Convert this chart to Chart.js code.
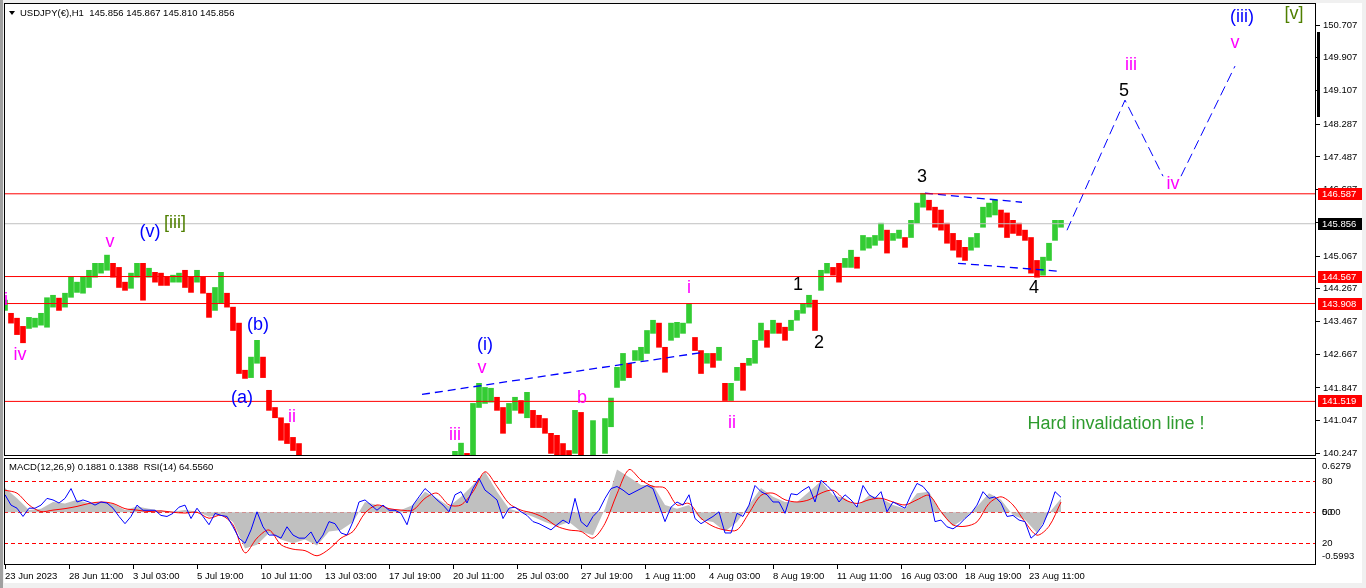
<!DOCTYPE html>
<html>
<head>
<meta charset="utf-8">
<script src="https://cdn.jsdelivr.net/npm/chart.js@4.4.0/dist/chart.umd.min.js"></script>
<style>
  body { margin: 0; width: 1366px; height: 588px; overflow: hidden; position: relative; background: #f0f0f0; }
  #edge { position: absolute; left: 0; top: 0; width: 3px; height: 588px; background: #a0a0a0; }
  #sheet { position: absolute; left: 4px; top: 3px; width: 1358px; height: 580px; background: #fff; }
  #main { position: absolute; left: 0; top: 0; }
  #sub { position: absolute; left: 0; top: 457px; }
</style>
</head>
<body>
<div id="edge"></div>
<div id="sheet"></div>
<canvas id="main" width="1366" height="457"></canvas>
<canvas id="sub" width="1366" height="131"></canvas>
<script>
// one bar every 6 hours, indicator readings every 12 hours (x axis counts hours)
const BAR_HOURS = 6;
const MACD_HOURS = 12;
const LABEL_HOURS = 64;

const highs = [
  143.99, 143.67, 143.55, 143.35, 143.57, 143.55, 143.67, 144.05, 144.11, 144.04,
  144.16, 144.55, 144.43, 144.55, 144.72, 144.89, 144.89, 145.09, 144.89, 144.79,
  144.43, 144.65, 144.89, 144.89, 144.77, 144.67, 144.65, 144.55, 144.60, 144.65,
  144.72, 144.55, 144.72, 144.55, 144.16, 144.30, 144.67, 144.16, 143.82, 143.43,
  142.28, 142.60, 143.01, 142.60, 141.79, 141.37, 141.12, 140.98, 140.64, 140.49,
  140.10, 140.00, 139.70, 139.40, 138.80, 138.60, 138.40, 138.30, 138.00, 138.10,
  138.60, 138.90, 138.90, 139.20, 139.10, 139.30, 139.20, 139.40, 139.60, 139.80,
  139.70, 139.80, 140.00, 139.90, 140.20, 140.30, 140.50, 140.25, 141.47, 141.96,
  141.86, 141.84, 141.62, 141.37, 141.47, 141.62, 141.54, 141.74, 141.30, 141.18,
  141.10, 140.74, 140.69, 140.49, 140.32, 141.30, 141.25, 139.30, 141.05, 140.10,
  141.10, 141.60, 142.35, 142.69, 142.45, 142.76, 142.84, 143.25, 143.50, 143.43,
  142.84, 143.43, 143.45, 143.43, 143.91, 143.08, 142.76, 142.69, 142.69, 142.84,
  141.96, 141.96, 142.35, 142.45, 142.57, 143.01, 143.43, 143.25, 143.50, 143.43,
  143.33, 143.50, 143.74, 143.91, 144.11, 143.99, 144.72, 144.89, 144.79, 144.89,
  145.01, 145.21, 145.04, 145.57, 145.52, 145.57, 145.87, 145.70, 145.62, 145.70,
  145.52, 145.94, 146.36, 146.60, 146.43, 146.26, 146.19, 145.87, 145.62, 145.45,
  145.28, 145.52, 145.62, 146.26, 146.36, 146.43, 146.19, 146.12, 145.94, 145.87,
  145.70, 145.52, 144.96, 145.04, 145.38, 145.94, 145.94
];
const lows = [
  143.74, 143.43, 143.15, 142.95, 143.30, 143.33, 143.38, 143.33, 143.82, 143.74,
  143.82, 144.06, 144.18, 144.16, 144.30, 144.55, 144.65, 144.72, 144.55, 144.30,
  144.23, 144.28, 144.55, 143.99, 144.55, 144.43, 144.35, 144.35, 144.43, 144.43,
  144.30, 144.18, 144.43, 144.16, 143.57, 143.74, 143.91, 143.82, 143.25, 142.20,
  142.08, 142.10, 142.45, 142.10, 141.30, 141.12, 140.57, 140.49, 140.32, 140.05,
  139.85, 139.60, 139.30, 138.60, 138.40, 138.20, 138.00, 137.90, 137.30, 137.25,
  137.90, 138.40, 138.60, 138.70, 138.80, 138.90, 138.80, 139.00, 139.20, 139.40,
  139.30, 139.50, 139.60, 139.50, 139.70, 139.80, 139.90, 139.80, 140.00, 141.37,
  141.47, 141.50, 141.30, 140.74, 140.98, 141.30, 141.23, 141.12, 140.88, 140.88,
  140.74, 140.25, 140.05, 139.95, 139.90, 140.25, 139.40, 138.30, 138.60, 139.40,
  140.25, 140.90, 141.86, 142.03, 142.10, 142.52, 142.52, 142.69, 143.18, 142.84,
  142.23, 143.01, 143.08, 143.18, 143.43, 142.76, 142.20, 142.45, 142.35, 142.52,
  141.54, 141.54, 142.03, 141.79, 142.40, 142.45, 143.01, 142.84, 143.18, 143.18,
  143.01, 143.25, 143.50, 143.67, 143.82, 143.25, 144.23, 144.65, 144.60, 144.43,
  144.79, 144.79, 144.77, 145.21, 145.26, 145.33, 145.45, 145.14, 145.45, 145.50,
  145.28, 145.52, 145.87, 146.26, 146.19, 145.77, 145.70, 145.38, 145.21, 145.04,
  144.96, 145.21, 145.28, 145.77, 146.02, 146.07, 145.77, 145.52, 145.62, 145.57,
  145.45, 144.65, 144.55, 144.60, 144.96, 145.45, 145.77
];

const rsi = [
  67, 57, 54, 46, 54, 54, 57, 63.5, 62, 59,
  63.5, 73, 60, 62, 60, 57, 60, 59, 54, 46,
  39, 46, 57, 52, 52, 52, 47, 46, 49, 55,
  57, 44, 54, 46, 38, 49, 47, 46, 36, 25,
  20, 33, 50.5, 36, 28, 28, 25, 36, 28, 25,
  25, 31, 20, 28, 41, 39, 30, 28, 41, 60,
  62, 57, 52, 57, 52, 52, 49, 38, 57, 65,
  73, 68, 62, 57, 50.5, 67, 70, 59, 73, 83,
  71.5, 67, 62, 44, 54, 55, 50.5, 47, 41, 39,
  36, 33, 38, 42.5, 39, 63.5, 41, 36, 46, 52,
  63.5, 73, 75, 71.5, 67, 70, 73, 76, 73, 57,
  41, 55, 60, 57, 67, 44, 39, 42.5, 46, 50.5,
  30, 30, 49, 46, 57, 76, 70, 67, 60, 60,
  49, 68, 67, 71.5, 75, 60, 81, 76, 70, 60,
  67, 62, 55, 76, 67, 63.5, 70, 50.5, 60, 57,
  54, 67, 78, 75, 68, 41, 42.5, 36, 34, 38,
  44, 49, 57, 70, 63.5, 65, 59, 46, 47, 42.5,
  41, 25, 30, 38, 52, 70, 64.56
];

const macd = [
  0.33, 0.19, 0.03, 0.05, 0.14, 0.12, 0.17, 0.12, 0.14, 0.12,
  0.03, 0.08, 0.05, 0.02, 0.01, 0.03, 0.01, -0.06, -0.03, -0.13,
  -0.49, -0.44, -0.28, -0.37, -0.42, -0.37, -0.45, -0.26, -0.24, -0.13,
  0.14, 0.10, 0.05, 0.03, 0.10, 0.28, 0.19, 0.08, 0.21, 0.37,
  0.55, 0.28, 0.05, 0.00, -0.06, -0.13, -0.19, -0.13, -0.26, -0.31,
  0.05, 0.58, 0.48, 0.37, 0.37, 0.10, 0.05, 0.10, -0.10, -0.13,
  -0.26, -0.13, 0.10, 0.33, 0.21, 0.14, 0.14, 0.28, 0.42, 0.23,
  0.19, 0.08, 0.23, 0.19, 0.10, 0.05, 0.26, 0.28, -0.01, -0.19,
  -0.08, 0.08, 0.26, 0.17, -0.04, -0.10, -0.28, -0.01, 0.1881
];
const signal = [
  0.30, 0.26, 0.10, 0.01, 0.03, 0.05, 0.08, 0.12, 0.14, 0.12,
  0.05, 0.03, 0.01, 0.02, 0.00, -0.01, 0.00, -0.08, -0.04, -0.17,
  -0.55, -0.35, -0.24, -0.44, -0.50, -0.52, -0.59, -0.50, -0.35, -0.26,
  -0.01, 0.10, 0.05, 0.03, 0.03, 0.19, 0.26, 0.10, 0.10, 0.28,
  0.55, 0.35, 0.12, 0.03, -0.01, -0.08, -0.19, -0.24, -0.26, -0.35,
  -0.15, 0.25, 0.58, 0.44, 0.35, 0.33, 0.10, 0.12, -0.08, -0.19,
  -0.24, -0.24, -0.01, 0.23, 0.26, 0.17, 0.14, 0.17, 0.26, 0.30,
  0.17, 0.12, 0.17, 0.19, 0.14, 0.10, 0.17, 0.23, 0.01, -0.17,
  -0.19, -0.13, 0.12, 0.21, 0.10, -0.13, -0.31, -0.19, 0.1388
];

const timeLabels = [
  '23 Jun 2023', '28 Jun 11:00', '3 Jul 03:00', '5 Jul 19:00', '10 Jul 11:00',
  '13 Jul 03:00', '17 Jul 19:00', '20 Jul 11:00', '25 Jul 03:00', '27 Jul 19:00',
  '1 Aug 11:00', '4 Aug 03:00', '8 Aug 19:00', '11 Aug 11:00', '16 Aug 03:00',
  '18 Aug 19:00', '23 Aug 11:00'
];
const priceTicks = [150.707, 149.907, 149.107, 148.287, 147.487, 146.687, 145.887,
  145.067, 144.267, 143.467, 142.667, 141.847, 141.047, 140.247];
const levels = [146.587, 144.567, 143.908, 141.519];
const bid = 145.856;
const rsiLevels = [80, 50, 20];
const macdTicks = [0.6279, 0, -0.5993];

// drawn wave lines: [hour, price] pairs
const triangleLine = [[417, 141.689], [698, 142.716]];
const topLine = [[920, 146.601], [1017, 146.381]];
const bottomLine = [[953, 144.891], [1055, 144.695]];
const pathUp = [[1062, 145.697], [1120, 148.874], [1158, 147.017]];
const pathLast = [[1176, 147.017], [1230, 149.705]];

const MAG = '#ff00ff', BLU = '#0000ff', BLK = '#000000', OLV = '#4f7f00', GRN = '#2e9b2e';
const waveLabels = [
  ['i', 1, 143.99, MAG], ['iv', 15, 142.64, MAG], ['v', 105, 145.40, MAG],
  ['(v)', 145, 145.65, BLU], ['[iii]', 170, 145.87, OLV], ['(b)', 253, 143.38, BLU],
  ['(a)', 237, 141.59, BLU], ['ii', 287, 141.13, MAG], ['iii', 450, 140.69, MAG],
  ['v', 477, 142.33, MAG], ['(i)', 480, 142.89, BLU], ['b', 577, 141.59, MAG],
  ['i', 684, 144.28, MAG], ['ii', 727, 140.98, MAG], ['1', 793, 144.35, BLK],
  ['2', 814, 142.94, BLK], ['3', 917, 146.99, BLK], ['4', 1029, 144.28, BLK],
  ['5', 1119, 149.09, BLK], ['iii', 1126, 149.73, MAG], ['iv', 1168, 146.82, MAG],
  ['v', 1230, 150.27, MAG], ['(iii)', 1237, 150.90, BLU], ['[v]', 1289, 150.98, OLV],
  ['Hard invalidation line !', 1111, 140.96, GRN]
];

const UP = '#33cc33', DOWN = '#ff0000';
const AXIS_FONT = { family: 'Liberation Sans', size: 9.5 };
const AXIS_CSS = '9.5px "Liberation Sans", Arial, sans-serif';
const X_MIN = -1, X_MAX = 1311;

const barColors = highs.map((h, i) => {
  if (i === 0) return UP;
  return (h + lows[i]) >= (highs[i - 1] + lows[i - 1]) ? UP : DOWN;
});

function pts(list) { return list.map(p => ({ x: p[0], y: p[1] })); }
function flat(y) { return [{ x: X_MIN, y: y }, { x: X_MAX, y: y }]; }
function lineSet(data, color, extra) {
  return Object.assign({ type: 'line', data: data, borderColor: color, borderWidth: 1,
    pointRadius: 0, fill: false, tension: 0, clip: 0, order: 0 }, extra || {});
}
// keep the plot box where it is: no extra room for edge labels
function noPad(s) { s.paddingTop = 0; s.paddingBottom = 0; s.paddingLeft = 0; s.paddingRight = 0; }

const framePlugin = {
  id: 'frame',
  afterDraw(chart) {
    const { ctx, chartArea: a } = chart;
    ctx.save();
    ctx.strokeStyle = '#000';
    ctx.lineWidth = 1;
    ctx.strokeRect(a.left + 0.5, a.top + 0.5, a.right - a.left - 1, a.bottom - a.top - 1);
    ctx.restore();
  }
};

const mainDecor = {
  id: 'mainDecor',
  afterDraw(chart) {
    const { ctx, chartArea: a } = chart;
    const xs = chart.scales.x, ys = chart.scales.y;
    ctx.save();
    // wave labels
    ctx.textAlign = 'center';
    ctx.textBaseline = 'middle';
    ctx.font = '18px "Liberation Sans", Arial, sans-serif';
    waveLabels.forEach(l => {
      ctx.fillStyle = l[3];
      ctx.fillText(l[0], xs.getPixelForValue(l[1]), ys.getPixelForValue(l[2]));
    });
    // header
    ctx.fillStyle = '#000';
    ctx.beginPath();
    ctx.moveTo(9, 11); ctx.lineTo(15, 11); ctx.lineTo(12, 15); ctx.closePath(); ctx.fill();
    ctx.textAlign = 'left';
    ctx.font = AXIS_CSS;
    ctx.fillText('USDJPY(\u20ac),H1  145.856 145.867 145.810 145.856', 20, 13);
    // price boxes on the scale
    const boxes = levels.map(v => [v, '#ff0000']).concat([[bid, '#000000']]);
    boxes.forEach(b => {
      const y = Math.round(ys.getPixelForValue(b[0]));
      ctx.fillStyle = b[1];
      ctx.fillRect(a.right + 2, y - 6, 44, 12);
      ctx.fillStyle = '#fff';
      ctx.fillText(b[0].toFixed(3), a.right + 6, y + 0.5);
    });
    // chart shift marker
    ctx.fillStyle = '#000';
    ctx.fillRect(a.right + 1, 32, 3, 85);
    ctx.restore();
  }
};

const subDecor = {
  id: 'subDecor',
  beforeDatasetsDraw(chart) {
    const { ctx, chartArea: a } = chart;
    const yr = chart.scales.yr;
    ctx.save();
    ctx.strokeStyle = '#ff0000';
    ctx.lineWidth = 1;
    ctx.setLineDash([4, 3]);
    rsiLevels.forEach(v => {
      const y = Math.round(yr.getPixelForValue(v)) + 0.5;
      ctx.beginPath(); ctx.moveTo(a.left, y); ctx.lineTo(a.right, y); ctx.stroke();
    });
    ctx.restore();
  },
  afterDraw(chart) {
    const { ctx, chartArea: a } = chart;
    const yr = chart.scales.yr;
    ctx.save();
    ctx.fillStyle = '#000';
    ctx.textBaseline = 'middle';
    ctx.font = AXIS_CSS;
    ctx.fillText('MACD(12,26,9) 0.1881 0.1388  RSI(14) 64.5560', 9, 10);
    // RSI level labels share the scale strip with the MACD ones
    rsiLevels.forEach(v => ctx.fillText(String(v), a.right + 6, yr.getPixelForValue(v)));
    ctx.restore();
  }
};

new Chart(document.getElementById('main'), {
  type: 'bar',
  data: {
    datasets: [
      ...levels.map(v => lineSet(flat(v), '#ff0000')),
      lineSet(flat(bid), '#c0c0c0', { order: 1 }),
      lineSet(pts(triangleLine), '#0000ff', { borderDash: [8, 5], borderWidth: 1.3 }),
      lineSet(pts(topLine), '#0000ff', { borderDash: [8, 5], borderWidth: 1.3 }),
      lineSet(pts(bottomLine), '#0000ff', { borderDash: [8, 5], borderWidth: 1.3 }),
      lineSet(pts(pathUp), '#0000ff', { borderDash: [10, 5] }),
      lineSet(pts(pathLast), '#0000ff', { borderDash: [10, 5] }),
      {
        type: 'bar',
        data: highs.map((h, i) => ({ x: i * BAR_HOURS, y: [lows[i], h] })),
        backgroundColor: barColors,
        borderWidth: 0,
        barThickness: 5,
        grouped: false,
        clip: 0,
        order: 5
      }
    ]
  },
  options: {
    responsive: false,
    animation: false,
    events: [],
    layout: { padding: { left: 4, top: 3, right: 0, bottom: 1 } },
    plugins: { legend: { display: false }, tooltip: { enabled: false } },
    scales: {
      x: { type: 'linear', min: X_MIN, max: X_MAX, offset: false, display: false },
      y: {
        type: 'linear', position: 'right', min: 140.186, max: 151.245,
        afterBuildTicks: s => { s.ticks = priceTicks.map(v => ({ value: v })); },
        afterFit: s => { s.width = 50; noPad(s); },
        ticks: { callback: v => v.toFixed(3), font: AXIS_FONT, color: '#000', padding: 3, autoSkip: false },
        grid: { drawOnChartArea: false, tickLength: 4, color: '#000' },
        border: { display: false }
      }
    }
  },
  plugins: [mainDecor, framePlugin]
});

new Chart(document.getElementById('sub'), {
  type: 'line',
  data: {
    datasets: [
      {
        data: macd.map((v, j) => ({ x: j * MACD_HOURS, y: v })),
        yAxisID: 'ym', borderWidth: 0, backgroundColor: '#c0c0c0',
        fill: 'origin', pointRadius: 0, tension: 0, clip: 0, order: 3
      },
      {
        data: signal.map((v, j) => ({ x: j * MACD_HOURS, y: v })),
        yAxisID: 'ym', borderColor: '#ff0000', borderWidth: 1,
        pointRadius: 0, tension: 0.3, clip: 0, order: 2
      },
      {
        data: rsi.map((v, i) => ({ x: i * BAR_HOURS, y: v })),
        yAxisID: 'yr', borderColor: '#0000ff', borderWidth: 1,
        pointRadius: 0, tension: 0, clip: 0, order: 1
      }
    ]
  },
  options: {
    responsive: false,
    animation: false,
    events: [],
    layout: { padding: { left: 4, top: 1, right: 0, bottom: 0 } },
    plugins: { legend: { display: false }, tooltip: { enabled: false } },
    scales: {
      x: {
        type: 'linear', position: 'bottom', min: X_MIN, max: X_MAX, offset: false,
        afterBuildTicks: s => { s.ticks = timeLabels.map((t, k) => ({ value: k * LABEL_HOURS })); },
        afterFit: s => { s.height = 23; noPad(s); },
        ticks: {
          callback: (v, i) => timeLabels[i], align: 'start', maxRotation: 0,
          autoSkip: false, font: AXIS_FONT, color: '#000', padding: 2
        },
        grid: { drawOnChartArea: false, tickLength: 4, color: '#000' },
        border: { display: false }
      },
      yr: { type: 'linear', position: 'right', min: -1, max: 102.6, display: false },
      ym: {
        type: 'linear', position: 'right', min: -0.715, max: 0.737,
        afterBuildTicks: s => { s.ticks = macdTicks.map(v => ({ value: v })); },
        afterFit: s => { s.width = 50; noPad(s); },
        ticks: { callback: v => (v === 0 ? '0.00' : v.toFixed(4)), font: AXIS_FONT, color: '#000', padding: 6, autoSkip: false },
        grid: { display: false, drawTicks: false },
        border: { display: false }
      }
    }
  },
  plugins: [subDecor, framePlugin]
});
</script>
</body>
</html>
